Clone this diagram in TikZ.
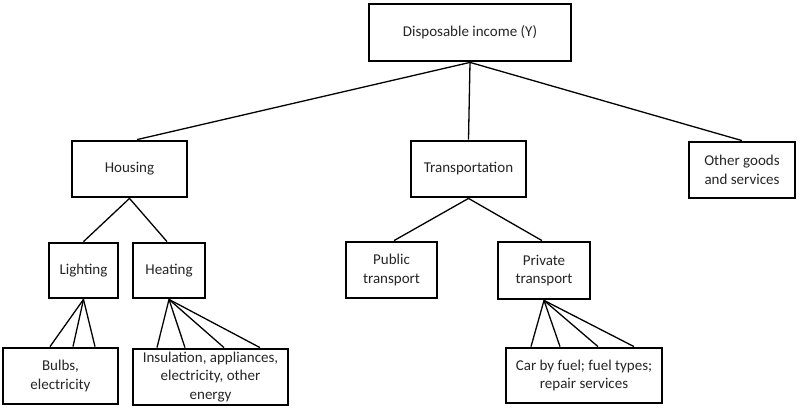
\documentclass[tikz,border=0pt]{standalone}
\usepackage{fontspec}
\setmainfont{Carlito}
\begin{document}
\begin{tikzpicture}[x=1pt,y=-1pt,
  box/.style={draw=black, line width=2.8pt, fill=white, inner sep=0pt, align=center,
    font=\fontsize{15}{18.8}\selectfont, text=black!85},
  link/.style={draw=black, line width=1.3pt}]
\useasboundingbox (0,0) rectangle (805,408);
% nodes
\node[box, minimum width=202pt, minimum height=57pt] (inc) at (470,32.5) {Disposable income (Y)};
\node[box, minimum width=115pt, minimum height=56pt] (housing) at (129.5,169) {Housing};
\node[box, minimum width=115pt, minimum height=56pt] (transp) at (468.5,169) {Transportation};
\node[box, minimum width=106pt, minimum height=56pt] (other) at (742,170) {Other goods\\and services};
\node[box, minimum width=69pt, minimum height=55pt] (light) at (83.5,270.5) {Lighting};
\node[box, minimum width=72pt, minimum height=55pt] (heat) at (169,270.5) {Heating};
\node[box, minimum width=91pt, minimum height=56pt] (public) at (391.5,270) {Public\\transport};
\node[box, minimum width=92pt, minimum height=57pt] (private) at (544,270.5) {Private\\transport};
\node[box, minimum width=115pt, minimum height=56pt] (bulbs) at (60.5,376) {Bulbs,\\electricity};
\node[box, minimum width=155pt, minimum height=56pt] (insul) at (210.5,377) {Insulation, appliances,\\electricity, other\\energy};
\node[box, minimum width=156pt, minimum height=55pt] (car) at (584,375.5) {Car by fuel; fuel types;\\repair services};
% connectors
\draw[link] (inc.south) -- ([xshift=7.5pt]housing.north);
\draw[link] (inc.south) -- (transp.north);
\draw[link] (inc.south) -- (other.north);
\draw[link] (housing.south) -- (light.north);
\draw[link] (housing.south) -- ([xshift=-2pt]heat.north);
\draw[link] (transp.south) -- ([xshift=2.5pt]public.north);
\draw[link] (transp.south) -- ([xshift=-2pt]private.north);
\draw[link] (light.south) -- ([xshift=-10.5pt]bulbs.north);
\draw[link] (light.south) -- ([xshift=12.5pt]bulbs.north);
\draw[link] (light.south) -- ([xshift=34.5pt]bulbs.north);
\draw[link] (heat.south) -- ([xshift=-53.5pt]insul.north);
\draw[link] (heat.south) -- ([xshift=-25.5pt]insul.north);
\draw[link] (heat.south) -- ([xshift=13.5pt]insul.north);
\draw[link] (heat.south) -- ([xshift=49.5pt]insul.north);
\draw[link] (private.south) -- ([xshift=-53pt]car.north);
\draw[link] (private.south) -- ([xshift=-24pt]car.north);
\draw[link] (private.south) -- ([xshift=14pt]car.north);
\draw[link] (private.south) -- ([xshift=50pt]car.north);
\end{tikzpicture}
\end{document}
